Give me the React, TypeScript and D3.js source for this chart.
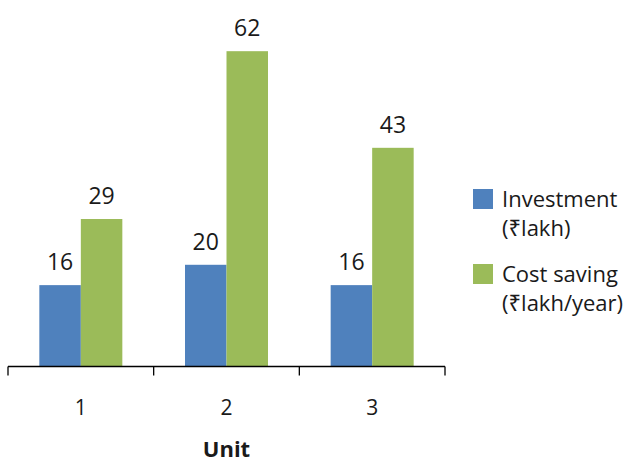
import React from "react";
import * as d3 from "d3";

const categories = ["1", "2", "3"];
const seriesNames = ["Investment", "Cost saving"];
const legendLines = [["Investment", "(₹lakh)"], ["Cost saving", "(₹lakh/year)"]];
const investment = [16, 20, 16];
const costSaving = [29, 62, 43];
const colors = ["#4F81BD", "#9BBB59"];
const axisTitle = "Unit";

export default function App() {
  const width = 637;
  const height = 464;
  const font = "'Open Sans', 'Noto Sans', sans-serif";
  const x = d3.scaleBand<string>().domain(categories).range([8, 445]).paddingInner(0).paddingOuter(0);
  const inner = d3.scaleBand<string>().domain(seriesNames).range([0, x.bandwidth()]).paddingInner(0).paddingOuter(0.755);
  const y = d3.scaleLinear().domain([0, 70]).range([366.5, 10.5]);
  const seriesData = [investment, costSaving];
  const ticks = [...categories.map((c) => x(c)!), x.range()[1]];

  return (
    <svg width={width} height={height} style={{ position: "absolute", left: 0, top: 0 }} fontFamily={font}>
      {seriesData.map((vals, si) =>
        vals.map((v, i) => {
          const bx = x(categories[i])! + inner(seriesNames[si])!;
          return (
            <g key={`${si}-${i}`}>
              <rect x={bx} y={y(v)} width={inner.bandwidth()} height={y(0) - y(v)} fill={colors[si]} />
              <text x={bx + inner.bandwidth() / 2} y={y(v) - 15} textAnchor="middle" fontSize={23} fill="#1a1a1a">
                {v}
              </text>
            </g>
          );
        })
      )}
      <line x1={x.range()[0]} x2={x.range()[1]} y1={y(0)} y2={y(0)} stroke="#000" strokeWidth={1.3} />
      {ticks.map((t, i) => (
        <line key={i} x1={t} x2={t} y1={y(0)} y2={y(0) + 9} stroke="#000" strokeWidth={1.3} />
      ))}
      {categories.map((c) => (
        <text key={c} x={x(c)! + x.bandwidth() / 2} y={415} textAnchor="middle" fontSize={21} fill="#1a1a1a">
          {c}
        </text>
      ))}
      <text x={x(categories[1])! + x.bandwidth() / 2} y={457} textAnchor="middle" fontSize={22} fontWeight="bold" fill="#1a1a1a">
        {axisTitle}
      </text>
      {legendLines.map((lines, i) => (
        <g key={i} transform={`translate(0, ${i * 75})`}>
          <rect x={473} y={189} width={20} height={20} fill={colors[i]} />
          {lines.map((ln, j) => (
            <text key={j} x={502} y={207 + j * 29} fontSize={22} fill="#1a1a1a">
              {ln}
            </text>
          ))}
        </g>
      ))}
    </svg>
  );
}
